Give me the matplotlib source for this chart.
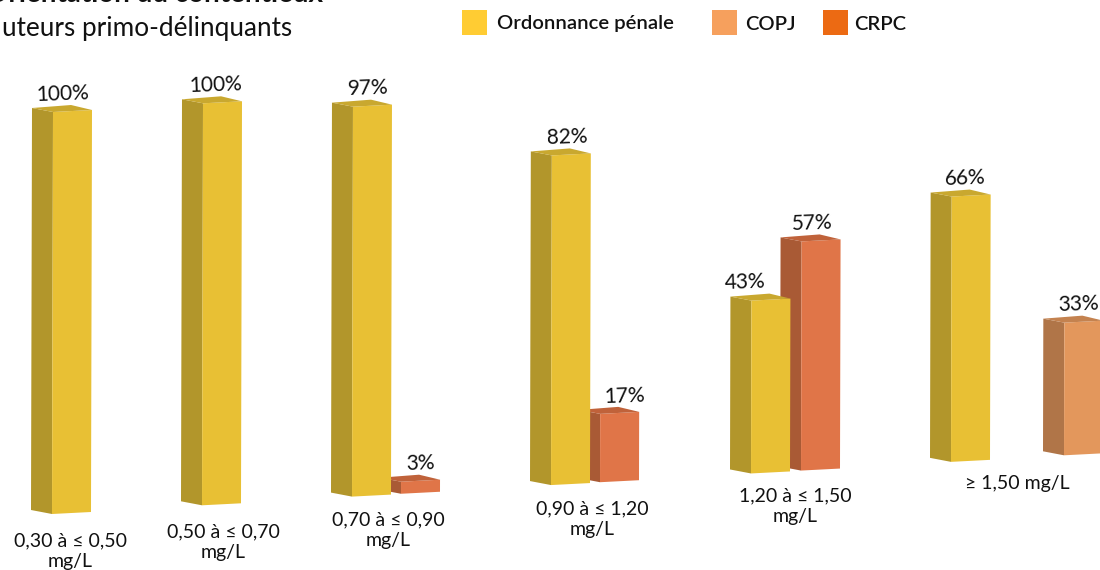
import matplotlib
matplotlib.use('Agg')
import matplotlib.pyplot as plt

plt.rcParams['font.family'] = ['Lato', 'DejaVu Sans']

# donnees
categories = ['0,30 à ≤ 0,50\nmg/L', '0,50 à ≤ 0,70\nmg/L', '0,70 à ≤ 0,90\nmg/L',
              '0,90 à ≤ 1,20\nmg/L', '1,20 à ≤ 1,50\nmg/L', '≥ 1,50 mg/L']
ordonnance = [100, 100, 97, 82, 43, 66]
second_val = [None, None, 3, 17, 57, 33]
second_nom = [None, None, 'CRPC', 'CRPC', 'CRPC', 'COPJ']
legende = ['Ordonnance pénale', 'COPJ', 'CRPC']

# mise en page (pixels de l'image)
x_ordo = [52, 202, 352, 551, 751, 951]
x_second = [None, None, 401, 600, 801, 1064]
dx_ordo = [11, 14, 16, 16, -6, 14]
dx_second = [0, 0, 19, 24, 11, 14]
x_cat = [70, 223, 388, 592, 795, 1017]
y_cat = [551, 542, 530, 519, 506, 483]
largeur = 39
echelle = 4.02

jaune = ('#E8C034', '#B2962B', '#C9A82F')
rouge = ('#E07548', '#A95A35', '#C0623A')
orange = ('#E3975C', '#B07548', '#C4824F')
couleurs = {'CRPC': rouge, 'COPJ': orange}


def base(x):
    # le graphique est legerement incline vers le haut a droite
    return 514 - 0.058 * (x - 52)


def barre(ax, x, valeur, cols, dx):
    y0 = base(x)
    h = valeur * echelle
    pente = 0.0025 * h
    face, cote, dessus = cols
    yh = y0 - h
    # cote gauche
    ax.fill([x + pente, x - 21 + pente, x - 21, x],
            [yh, yh - 4, y0 - 4, y0], color=cote, lw=0)
    # face
    ax.fill([x, x + largeur, x + largeur + pente, x + pente],
            [y0, y0 - 2, yh - 2, yh], color=face, lw=0)
    # dessus
    ax.fill([x + pente, x - 21 + pente, x + 18 + pente, x + largeur + pente],
            [yh, yh - 4, yh - 7, yh - 2], color=dessus, lw=0)
    ax.text(x + dx, yh - 18, f'{valeur}%', ha='center', va='center',
            fontsize=15, color='#111111', rotation=2)


fig = plt.figure(figsize=(11, 5.7), dpi=100)
ax = fig.add_axes([0, 0, 1, 1])
ax.set_xlim(0, 1100)
ax.set_ylim(570, 0)
ax.axis('off')

for i in range(len(categories)):
    # la barre rouge passe derriere la jaune
    if second_val[i] is not None:
        barre(ax, x_second[i], second_val[i], couleurs[second_nom[i]], dx_second[i])
    barre(ax, x_ordo[i], ordonnance[i], jaune, dx_ordo[i])
    ax.text(x_cat[i], y_cat[i], categories[i], ha='center', va='center',
            fontsize=14, color='#111111', linespacing=1.3)

# titre (coupe en haut de l'image)
ax.text(323, 2, 'Orientation du contentieux', ha='right', va='baseline',
        fontsize=20, fontweight='bold', color='#111111')
ax.text(2, 36, 'uteurs primo-délinquants', ha='left', va='baseline',
        fontsize=18.8, color='#111111')

# legende
for nom, xc, xt, c in zip(legende, [462, 712, 823], [497, 745, 854],
                          ['#FFCC33', '#F6A05D', '#EC6A13']):
    ax.add_patch(plt.Rectangle((xc, 10), 25, 25, color=c, lw=0))
    ax.text(xt, 24, nom, ha='left', va='center', fontsize=14.6,
            fontweight='semibold', color='#111111')

fig.savefig('out.png', dpi=100)
